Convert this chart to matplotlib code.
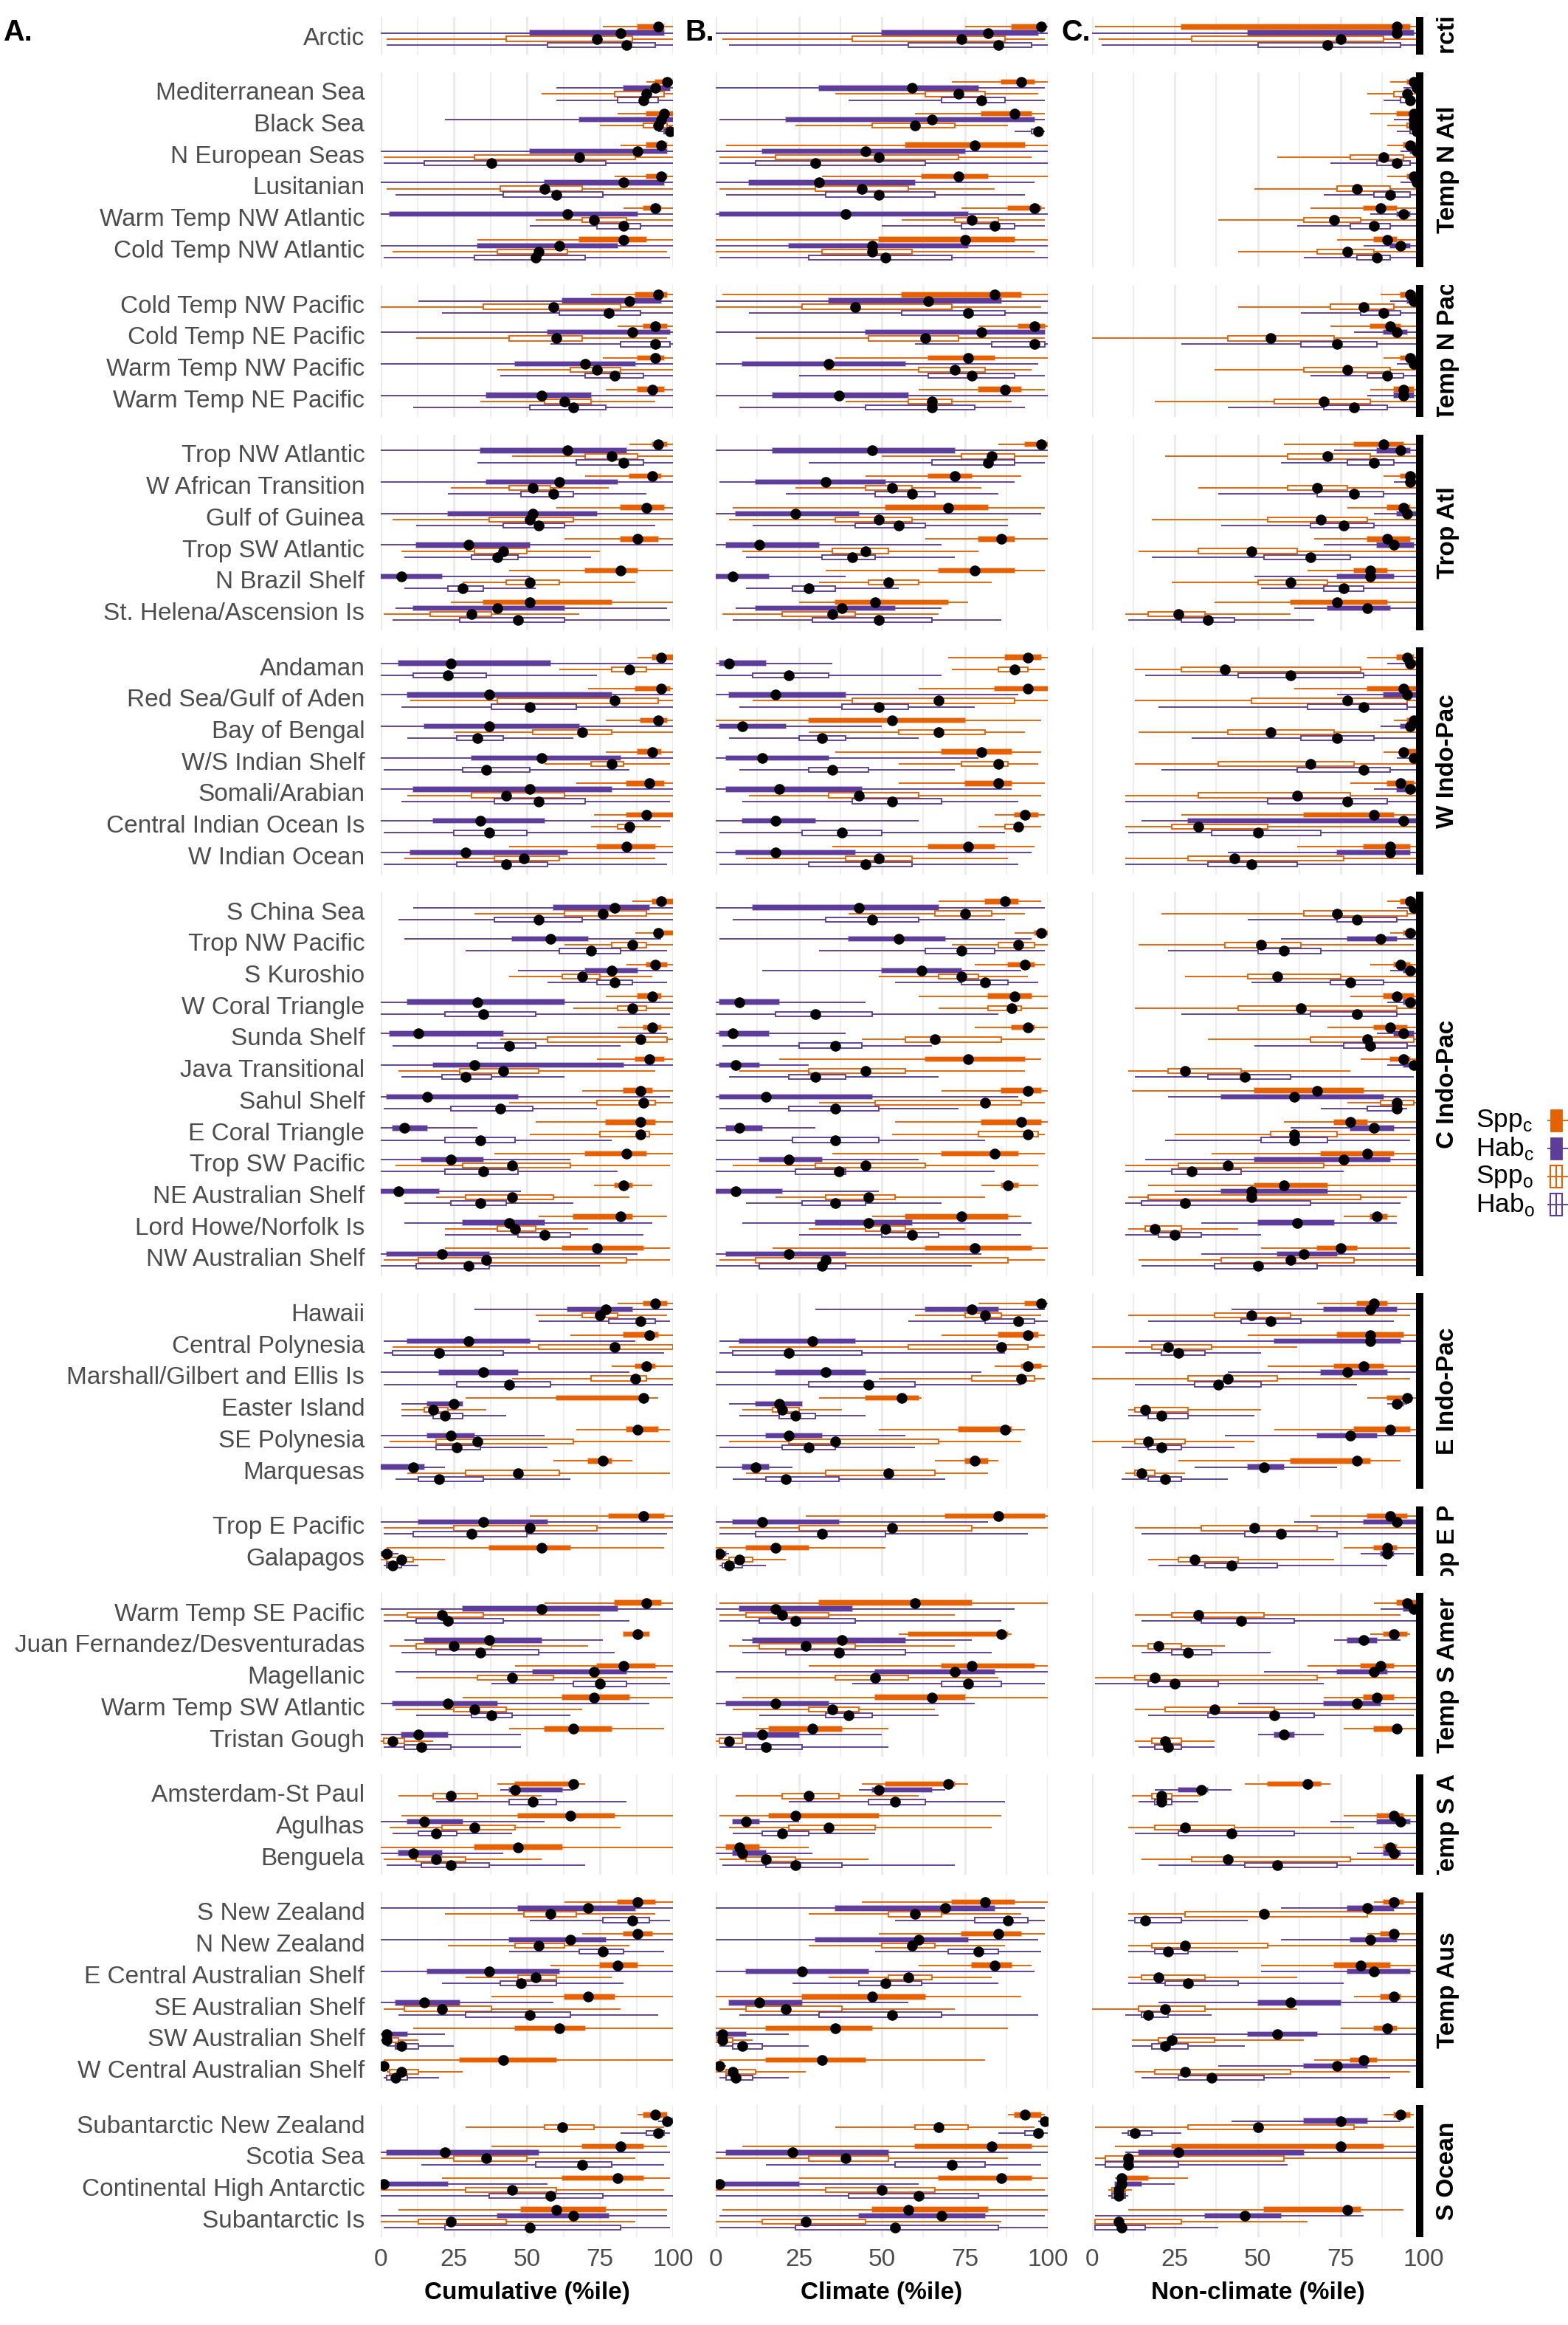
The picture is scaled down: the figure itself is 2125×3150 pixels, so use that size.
import matplotlib
matplotlib.use("Agg")
import matplotlib.pyplot as plt
from matplotlib.patches import Rectangle
from matplotlib.colors import to_rgba

plt.rcParams['font.family'] = ['Liberation Sans', 'DejaVu Sans']

# ---- data -------------------------------------------------------------
REALMS = ["Arctic", "Temp N Atl", "Temp N Pac", "Trop Atl", "W Indo-Pac",
          "C Indo-Pac", "E Indo-Pac", "Trop E Pac", "Temp S Amer",
          "Temp S Af", "Temp Aus", "S Ocean"]
REALM_SIZES = [1, 6, 4, 6, 7, 12, 6, 2, 5, 3, 6, 4]

PROVINCES = [
    "Arctic",
    "Mediterranean Sea", "Black Sea", "N European Seas", "Lusitanian",
    "Warm Temp NW Atlantic", "Cold Temp NW Atlantic",
    "Cold Temp NW Pacific", "Cold Temp NE Pacific", "Warm Temp NW Pacific",
    "Warm Temp NE Pacific",
    "Trop NW Atlantic", "W African Transition", "Gulf of Guinea",
    "Trop SW Atlantic", "N Brazil Shelf", "St. Helena/Ascension Is",
    "Andaman", "Red Sea/Gulf of Aden", "Bay of Bengal", "W/S Indian Shelf",
    "Somali/Arabian", "Central Indian Ocean Is", "W Indian Ocean",
    "S China Sea", "Trop NW Pacific", "S Kuroshio", "W Coral Triangle",
    "Sunda Shelf", "Java Transitional", "Sahul Shelf", "E Coral Triangle",
    "Trop SW Pacific", "NE Australian Shelf", "Lord Howe/Norfolk Is",
    "NW Australian Shelf",
    "Hawaii", "Central Polynesia", "Marshall/Gilbert and Ellis Is",
    "Easter Island", "SE Polynesia", "Marquesas",
    "Trop E Pacific", "Galapagos",
    "Warm Temp SE Pacific", "Juan Fernandez/Desventuradas", "Magellanic",
    "Warm Temp SW Atlantic", "Tristan Gough",
    "Amsterdam-St Paul", "Agulhas", "Benguela",
    "S New Zealand", "N New Zealand", "E Central Australian Shelf",
    "SE Australian Shelf", "SW Australian Shelf", "W Central Australian Shelf",
    "Subantarctic New Zealand", "Scotia Sea", "Continental High Antarctic",
    "Subantarctic Is",
]

# each entry: (low, q25, median, q75, high) percentile, one per province
CUM_SPP_C = [
    (76, 88, 95, 97, 100),
    (91, 94, 98, 100, 100), (81, 91, 97, 100, 100), (82, 91, 96, 98, 100),
    (80, 91, 96, 98, 100), (83, 90, 94, 96, 100), (33, 68, 83, 91, 100),
    (72, 87, 95, 98, 100), (81, 90, 94, 98, 100), (76, 88, 94, 97, 100),
    (77, 88, 93, 97, 100),
    (85, 93, 95, 98, 100), (70, 85, 93, 96, 100), (60, 82, 91, 97, 100),
    (63, 82, 88, 95, 100), (44, 70, 82, 88, 100), (24, 35, 51, 79, 100),
    (88, 93, 96, 100, 100), (71, 87, 96, 99, 100), (77, 89, 95, 98, 100),
    (77, 88, 93, 96, 100), (67, 84, 92, 97, 100), (73, 84, 91, 100, 100),
    (44, 74, 84, 94, 100),
    (86, 93, 96, 100, 100), (87, 94, 95, 100, 100), (84, 91, 94, 98, 100),
    (77, 88, 93, 96, 100), (81, 90, 93, 96, 100), (74, 87, 92, 97, 100),
    (69, 83, 89, 93, 100), (53, 77, 89, 94, 100), (39, 70, 84, 91, 100),
    (73, 80, 83, 86, 93), (54, 66, 82, 86, 98), (22, 62, 74, 90, 99),
    (81, 90, 94, 98, 100), (65, 83, 92, 95, 100), (79, 87, 91, 94, 100),
    (29, 60, 90, 91, 95), (67, 84, 88, 95, 99), (59, 71, 76, 79, 86),
    (51, 78, 90, 97, 100), (2, 37, 55, 65, 97),
    (56, 80, 91, 96, 100), (83, 83, 88, 92, 92), (46, 74, 83, 94, 100),
    (28, 62, 73, 85, 100), (44, 56, 66, 79, 97),
    (40, 46, 66, 66, 70), (7, 47, 65, 80, 100), (0, 32, 47, 62, 100),
    (63, 81, 88, 94, 100), (69, 83, 88, 93, 100), (58, 75, 81, 88, 100),
    (38, 63, 71, 80, 100), (11, 46, 61, 70, 100), (1, 27, 42, 60, 100),
    (88, 90, 94, 98, 98), (38, 69, 82, 90, 98), (21, 62, 81, 90, 99),
    (6, 48, 60, 77, 98),
]
CUM_HAB_C = [
    (0, 51, 82, 97, 100),
    (60, 83, 94, 99, 100), (22, 68, 96, 100, 100), (0, 51, 88, 98, 100),
    (0, 56, 83, 97, 100), (0, 3, 64, 88, 100), (0, 33, 61, 81, 100),
    (13, 62, 85, 96, 100), (0, 57, 86, 99, 100), (0, 46, 70, 87, 100),
    (0, 36, 55, 72, 100),
    (0, 34, 64, 84, 100), (0, 36, 61, 81, 100), (0, 23, 52, 74, 100),
    (0, 12, 30, 51, 100), (0, 0, 7, 21, 51), (5, 11, 40, 63, 98),
    (0, 6, 24, 58, 100), (0, 9, 37, 79, 100), (0, 15, 37, 68, 100),
    (0, 31, 55, 82, 100), (0, 11, 51, 79, 100), (0, 18, 34, 56, 99),
    (0, 10, 29, 64, 100),
    (11, 59, 80, 92, 100), (8, 45, 58, 71, 96), (47, 70, 79, 88, 100),
    (0, 9, 33, 63, 100), (0, 3, 13, 42, 98), (0, 18, 32, 83, 100),
    (0, 2, 16, 47, 99), (0, 4, 8, 16, 33), (0, 14, 24, 35, 65),
    (0, 0, 6, 20, 48), (8, 28, 44, 56, 93), (0, 2, 21, 37, 88),
    (32, 64, 77, 86, 100), (1, 9, 30, 51, 87), (0, 20, 35, 47, 85),
    (7, 16, 25, 28, 28), (0, 16, 24, 32, 56), (0, 0, 11, 15, 22),
    (0, 13, 35, 57, 100), (0, 0, 2, 4, 6),
    (0, 28, 55, 81, 100), (8, 15, 37, 55, 76), (5, 52, 73, 84, 100),
    (0, 4, 23, 40, 92), (0, 7, 13, 23, 48),
    (41, 44, 46, 62, 66), (0, 9, 15, 28, 56), (0, 6, 11, 21, 42),
    (0, 47, 71, 87, 100), (0, 44, 65, 77, 100), (0, 16, 37, 61, 100),
    (0, 5, 15, 27, 59), (0, 1, 2, 9, 22), (0, 0, 1, 1, 2),
    (95, 97, 98, 100, 100), (0, 2, 22, 54, 99), (0, 0, 1, 23, 57),
    (0, 40, 66, 78, 98),
]
CUM_SPP_O = [
    (2, 43, 74, 86, 100),
    (55, 80, 91, 97, 100), (75, 90, 95, 98, 100), (1, 32, 68, 87, 100),
    (2, 41, 56, 69, 100), (53, 69, 73, 84, 100), (4, 40, 54, 64, 98),
    (0, 35, 59, 82, 100), (12, 44, 60, 69, 98), (40, 65, 74, 82, 100),
    (34, 56, 63, 72, 94),
    (45, 70, 79, 88, 100), (24, 44, 52, 58, 78), (4, 37, 51, 66, 100),
    (7, 32, 42, 50, 75), (28, 43, 51, 61, 87), (1, 17, 31, 38, 68),
    (61, 79, 85, 91, 100), (10, 40, 80, 95, 100), (25, 52, 69, 79, 100),
    (56, 72, 79, 83, 99), (9, 31, 43, 63, 100), (72, 81, 85, 86, 96),
    (8, 39, 49, 61, 94),
    (32, 63, 76, 91, 100), (63, 79, 86, 91, 100), (44, 62, 69, 75, 93),
    (66, 81, 86, 91, 100), (41, 57, 89, 98, 100), (6, 27, 42, 54, 94),
    (44, 74, 90, 94, 100), (51, 75, 89, 92, 100), (5, 28, 45, 65, 99),
    (19, 29, 45, 59, 85), (22, 40, 46, 53, 71), (1, 13, 36, 84, 99),
    (53, 69, 75, 81, 98), (4, 54, 80, 100, 100), (45, 72, 87, 91, 100),
    (7, 15, 18, 23, 36), (3, 19, 33, 66, 99), (9, 29, 47, 61, 99),
    (1, 25, 51, 74, 100), (0, 2, 7, 11, 22),
    (1, 9, 21, 35, 75), (3, 12, 25, 38, 71), (12, 33, 45, 59, 98),
    (5, 25, 32, 43, 69), (0, 1, 4, 8, 18),
    (6, 18, 24, 33, 55), (3, 21, 32, 46, 82), (1, 12, 19, 29, 55),
    (22, 49, 58, 67, 94), (23, 46, 54, 63, 85), (29, 47, 53, 60, 79),
    (1, 8, 21, 38, 82), (0, 1, 2, 6, 13), (2, 3, 7, 13, 28),
    (29, 56, 62, 73, 97), (0, 25, 36, 50, 87), (0, 29, 45, 60, 97),
    (0, 13, 24, 43, 87),
]
CUM_HAB_O = [
    (2, 57, 84, 94, 100),
    (60, 81, 90, 95, 100), (95, 97, 99, 100, 100), (1, 15, 38, 77, 100),
    (5, 42, 60, 76, 100), (51, 74, 83, 89, 100), (1, 32, 53, 70, 99),
    (21, 61, 78, 89, 100), (58, 82, 94, 99, 100), (41, 70, 80, 90, 100),
    (11, 51, 66, 77, 100),
    (33, 67, 83, 90, 100), (23, 48, 59, 66, 91), (12, 42, 54, 63, 94),
    (8, 31, 40, 47, 72), (8, 23, 28, 35, 53), (4, 27, 47, 63, 99),
    (0, 11, 23, 36, 74), (7, 38, 51, 67, 100), (9, 26, 33, 42, 66),
    (1, 28, 36, 51, 85), (7, 39, 54, 70, 99), (1, 25, 37, 50, 86),
    (1, 26, 43, 57, 98),
    (6, 39, 54, 69, 100), (29, 61, 72, 82, 98), (57, 74, 80, 86, 98),
    (0, 22, 35, 53, 99), (4, 33, 44, 53, 82), (7, 21, 29, 38, 63),
    (1, 24, 41, 52, 74), (0, 22, 34, 46, 79), (0, 22, 35, 47, 81),
    (8, 24, 34, 43, 66), (22, 47, 56, 65, 90), (0, 12, 30, 37, 75),
    (54, 78, 89, 94, 99), (1, 4, 20, 42, 97), (1, 26, 44, 58, 100),
    (7, 18, 22, 28, 43), (1, 19, 26, 34, 57), (5, 13, 20, 35, 65),
    (1, 11, 31, 50, 98), (1, 2, 4, 7, 13),
    (1, 12, 23, 42, 85), (7, 19, 34, 54, 80), (38, 66, 75, 84, 99),
    (12, 31, 38, 45, 65), (1, 8, 14, 24, 48),
    (19, 44, 52, 60, 84), (4, 13, 19, 26, 45), (2, 14, 24, 37, 70),
    (51, 76, 86, 92, 99), (44, 68, 76, 83, 97), (21, 41, 48, 60, 83),
    (6, 29, 51, 65, 95), (2, 5, 7, 13, 25), (1, 2, 5, 9, 20),
    (82, 91, 95, 97, 99), (14, 53, 69, 79, 97), (0, 37, 58, 76, 100),
    (1, 22, 51, 82, 99),
]

CLIM_SPP_C = [
    (75, 89, 98, 99, 100),
    (71, 86, 92, 96, 100), (60, 80, 90, 95, 99), (3, 57, 78, 93, 100),
    (32, 62, 73, 82, 100), (74, 88, 96, 98, 99), (0, 49, 75, 90, 100),
    (2, 56, 84, 92, 100), (79, 91, 96, 99, 100), (36, 64, 76, 84, 100),
    (61, 79, 87, 92, 99),
    (85, 93, 98, 100, 100), (45, 64, 72, 77, 92), (5, 51, 70, 82, 99),
    (63, 79, 86, 90, 100), (33, 67, 78, 90, 99), (25, 36, 48, 70, 76),
    (70, 87, 94, 98, 100), (61, 84, 94, 100, 100), (0, 28, 53, 75, 98),
    (36, 68, 80, 89, 98), (55, 75, 85, 89, 99), (84, 90, 93, 97, 99),
    (35, 64, 76, 84, 96),
    (67, 81, 87, 91, 98), (90, 96, 98, 100, 100), (78, 88, 93, 96, 99),
    (61, 82, 90, 95, 100), (78, 89, 94, 96, 100), (19, 63, 76, 93, 98),
    (68, 86, 94, 98, 100), (54, 80, 92, 98, 100), (35, 68, 84, 91, 99),
    (80, 86, 88, 91, 97), (47, 57, 74, 88, 92), (17, 63, 78, 95, 100),
    (79, 93, 98, 99, 100), (68, 85, 94, 97, 99), (84, 92, 94, 98, 100),
    (31, 45, 56, 61, 62), (49, 73, 87, 89, 93), (66, 75, 78, 82, 85),
    (27, 69, 85, 99, 100), (0, 9, 18, 28, 51),
    (1, 31, 60, 77, 100), (55, 58, 86, 88, 89), (28, 68, 77, 96, 100),
    (8, 48, 65, 75, 100), (12, 16, 29, 38, 52),
    (44, 51, 70, 72, 76), (1, 16, 24, 49, 86), (0, 3, 7, 13, 28),
    (44, 71, 81, 90, 100), (49, 74, 85, 92, 99), (61, 77, 84, 89, 95),
    (0, 26, 47, 63, 92), (0, 15, 36, 47, 88), (1, 15, 32, 45, 81),
    (88, 90, 93, 98, 99), (8, 60, 83, 95, 100), (25, 67, 86, 95, 100),
    (2, 47, 58, 82, 100),
]
CLIM_HAB_C = [
    (0, 50, 82, 97, 100),
    (0, 31, 59, 79, 99), (1, 21, 65, 96, 99), (0, 14, 45, 75, 100),
    (0, 10, 31, 60, 96), (0, 1, 39, 76, 100), (0, 22, 47, 76, 100),
    (0, 34, 64, 86, 100), (0, 45, 80, 99, 99), (0, 8, 34, 57, 97),
    (0, 17, 37, 58, 100),
    (0, 17, 47, 72, 100), (1, 12, 33, 51, 90), (0, 6, 24, 43, 98),
    (0, 3, 13, 31, 68), (0, 0, 5, 16, 39), (6, 12, 38, 54, 68),
    (0, 1, 4, 15, 35), (0, 4, 18, 39, 91), (0, 1, 8, 21, 50),
    (0, 3, 14, 34, 79), (0, 3, 19, 44, 89), (0, 8, 18, 30, 61),
    (0, 6, 18, 42, 95),
    (0, 11, 43, 67, 99), (1, 40, 55, 69, 95), (14, 50, 62, 74, 92),
    (0, 1, 7, 19, 45), (0, 1, 5, 16, 39), (0, 1, 6, 13, 28),
    (0, 1, 15, 47, 91), (0, 3, 7, 14, 30), (0, 13, 22, 32, 61),
    (0, 0, 6, 20, 49), (8, 30, 46, 59, 95), (0, 3, 22, 39, 80),
    (30, 63, 77, 85, 99), (1, 7, 29, 42, 85), (0, 18, 33, 45, 80),
    (4, 12, 19, 26, 26), (0, 15, 22, 32, 57), (0, 8, 12, 16, 23),
    (0, 5, 14, 37, 82), (0, 0, 1, 3, 4),
    (0, 7, 18, 41, 90), (8, 11, 38, 57, 77), (0, 48, 72, 84, 100),
    (0, 3, 18, 34, 78), (0, 8, 14, 25, 50),
    (43, 47, 49, 65, 69), (5, 5, 9, 13, 25), (0, 5, 8, 15, 29),
    (0, 36, 69, 84, 99), (0, 30, 61, 76, 97), (0, 9, 26, 46, 96),
    (4, 4, 13, 26, 58), (0, 0, 2, 9, 22), (0, 0, 1, 2, 3),
    (97, 98, 99, 100, 100), (0, 3, 23, 52, 100), (0, 0, 1, 25, 61),
    (1, 43, 68, 81, 99),
]
CLIM_SPP_O = [
    (2, 41, 74, 87, 99),
    (36, 63, 73, 81, 97), (24, 47, 60, 72, 88), (1, 18, 49, 73, 95),
    (1, 30, 44, 58, 84), (56, 72, 77, 85, 99), (0, 32, 47, 59, 96),
    (0, 26, 42, 71, 98), (12, 46, 63, 73, 99), (33, 61, 72, 81, 95),
    (39, 58, 65, 71, 89),
    (50, 74, 83, 90, 100), (24, 45, 53, 59, 80), (4, 36, 49, 59, 88),
    (8, 35, 45, 52, 79), (31, 46, 52, 61, 83), (2, 20, 35, 42, 67),
    (71, 85, 90, 94, 99), (11, 41, 67, 90, 100), (28, 55, 67, 81, 93),
    (55, 74, 85, 88, 97), (10, 34, 43, 61, 98), (79, 87, 91, 92, 98),
    (9, 39, 49, 59, 88),
    (40, 66, 75, 83, 93), (71, 85, 91, 96, 100), (49, 67, 74, 79, 94),
    (67, 82, 89, 92, 100), (44, 57, 66, 86, 99), (7, 28, 45, 57, 93),
    (31, 48, 81, 92, 99), (53, 79, 94, 97, 99), (5, 30, 45, 63, 97),
    (18, 33, 46, 54, 81), (28, 45, 51, 57, 75), (1, 12, 33, 88, 99),
    (60, 75, 81, 86, 98), (4, 58, 86, 94, 99), (49, 77, 92, 96, 99),
    (8, 17, 20, 25, 38), (4, 22, 36, 67, 92), (9, 33, 52, 66, 82),
    (1, 25, 53, 77, 100), (0, 4, 7, 11, 21),
    (1, 9, 20, 34, 72), (4, 13, 27, 42, 72), (6, 36, 48, 58, 85),
    (5, 28, 35, 43, 66), (0, 1, 4, 8, 8),
    (6, 20, 28, 37, 61), (4, 22, 34, 48, 83), (1, 9, 15, 24, 46),
    (28, 52, 60, 68, 92), (28, 50, 59, 66, 87), (34, 52, 58, 65, 83),
    (1, 9, 21, 38, 72), (0, 0, 2, 5, 11), (0, 3, 5, 12, 27),
    (36, 60, 67, 76, 96), (0, 28, 39, 52, 88), (0, 33, 50, 66, 99),
    (0, 14, 27, 45, 86),
]
CLIM_HAB_O = [
    (4, 58, 85, 95, 100),
    (40, 68, 80, 87, 99), (90, 95, 97, 98, 99), (1, 12, 30, 63, 100),
    (3, 33, 49, 66, 93), (50, 74, 84, 90, 99), (1, 28, 51, 71, 100),
    (10, 56, 76, 87, 100), (60, 83, 96, 99, 100), (25, 64, 77, 90, 99),
    (7, 45, 65, 78, 93),
    (28, 65, 82, 90, 99), (21, 48, 59, 66, 85), (11, 42, 55, 63, 88),
    (9, 32, 41, 48, 72), (9, 23, 28, 36, 55), (5, 29, 49, 65, 86),
    (0, 11, 22, 34, 68), (7, 38, 49, 58, 78), (4, 25, 32, 39, 61),
    (7, 28, 35, 46, 72), (8, 41, 53, 68, 91), (1, 26, 38, 50, 87),
    (1, 28, 45, 59, 91),
    (5, 33, 47, 61, 87), (31, 63, 74, 84, 99), (54, 74, 81, 88, 97),
    (0, 18, 30, 47, 85), (2, 25, 36, 44, 65), (4, 22, 30, 39, 67),
    (1, 22, 36, 49, 73), (0, 23, 36, 49, 81), (0, 24, 37, 39, 84),
    (9, 26, 36, 45, 68), (25, 50, 59, 67, 92), (0, 13, 32, 39, 77),
    (58, 81, 91, 96, 100), (1, 5, 22, 44, 87), (0, 28, 46, 60, 92),
    (7, 19, 24, 30, 45), (1, 20, 28, 36, 60), (5, 15, 21, 37, 69),
    (1, 12, 32, 51, 94), (1, 2, 4, 8, 15),
    (1, 13, 24, 42, 86), (8, 21, 37, 57, 83), (41, 68, 76, 86, 99),
    (13, 33, 40, 47, 67), (1, 9, 15, 26, 52),
    (22, 46, 54, 63, 87), (5, 14, 20, 28, 48), (2, 15, 24, 38, 72),
    (54, 78, 88, 94, 99), (48, 70, 79, 85, 98), (23, 43, 51, 62, 85),
    (7, 31, 53, 68, 97), (1, 5, 8, 14, 28), (1, 3, 6, 11, 22),
    (85, 93, 97, 98, 100), (15, 54, 71, 81, 98), (0, 40, 61, 79, 100),
    (1, 24, 54, 85, 100),
]

NCL_SPP_C = [
    (1, 27, 92, 96, 100),
    (90, 95, 97, 99, 100), (84, 92, 97, 98, 100), (89, 94, 96, 98, 100),
    (89, 95, 97, 99, 100), (66, 82, 87, 92, 100), (74, 85, 89, 92, 100),
    (87, 93, 96, 98, 100), (72, 84, 90, 93, 100), (88, 93, 96, 98, 100),
    (84, 91, 94, 97, 100),
    (58, 79, 88, 94, 100), (88, 93, 96, 98, 100), (77, 89, 94, 96, 100),
    (67, 83, 89, 96, 100), (65, 79, 84, 89, 100), (37, 60, 74, 89, 100),
    (83, 92, 95, 97, 100), (61, 83, 94, 98, 100), (91, 95, 97, 99, 100),
    (88, 93, 94, 98, 100), (78, 89, 93, 97, 100), (27, 64, 85, 91, 100),
    (62, 82, 90, 96, 100),
    (89, 93, 96, 98, 100), (90, 94, 96, 98, 100), (84, 91, 93, 96, 100),
    (78, 88, 92, 97, 100), (71, 85, 90, 95, 100), (81, 90, 94, 96, 100),
    (12, 49, 68, 82, 99), (58, 73, 78, 83, 98), (36, 69, 83, 91, 100),
    (17, 49, 58, 71, 100), (76, 84, 86, 89, 92), (51, 68, 75, 80, 96),
    (68, 80, 85, 89, 100), (47, 74, 84, 94, 100), (53, 73, 82, 88, 99),
    (83, 89, 95, 96, 100), (55, 79, 90, 96, 99), (26, 60, 80, 84, 93),
    (66, 83, 90, 95, 100), (76, 85, 89, 92, 98),
    (85, 92, 95, 98, 100), (84, 88, 91, 95, 96), (65, 81, 87, 91, 100),
    (70, 82, 86, 91, 100), (76, 85, 92, 92, 98),
    (46, 53, 65, 69, 72), (76, 86, 91, 94, 100), (85, 88, 90, 92, 98),
    (85, 88, 91, 94, 99), (83, 87, 91, 92, 98), (51, 73, 81, 90, 100),
    (79, 87, 91, 93, 100), (75, 85, 89, 92, 100), (67, 78, 82, 86, 98),
    (88, 91, 93, 96, 97), (7, 24, 75, 88, 98), (7, 8, 9, 17, 29),
    (11, 52, 77, 81, 94),
]
NCL_HAB_C = [
    (0, 47, 92, 97, 100),
    (94, 97, 98, 100, 100), (91, 96, 97, 99, 100), (93, 96, 98, 99, 100),
    (93, 97, 98, 100, 100), (84, 92, 94, 96, 100), (82, 90, 93, 96, 100),
    (90, 95, 97, 99, 100), (79, 88, 92, 95, 100), (92, 96, 97, 99, 100),
    (83, 91, 94, 97, 100),
    (73, 86, 93, 96, 100), (91, 95, 96, 99, 100), (85, 92, 95, 99, 100),
    (70, 86, 91, 97, 100), (49, 74, 84, 91, 100), (61, 71, 83, 90, 99),
    (89, 95, 96, 100, 100), (74, 88, 95, 98, 100), (87, 93, 96, 99, 100),
    (92, 96, 97, 99, 100), (85, 92, 96, 99, 100), (15, 29, 94, 99, 99),
    (41, 74, 90, 96, 100),
    (92, 96, 97, 100, 100), (57, 77, 87, 92, 100), (90, 94, 96, 99, 100),
    (89, 94, 96, 99, 100), (86, 91, 94, 97, 100), (89, 94, 97, 99, 100),
    (23, 39, 61, 88, 100), (60, 78, 85, 91, 99), (16, 49, 76, 90, 100),
    (25, 39, 48, 71, 100), (33, 50, 62, 73, 92), (33, 56, 64, 74, 100),
    (42, 70, 84, 92, 100), (14, 55, 84, 93, 98), (41, 69, 77, 89, 99),
    (89, 91, 92, 94, 95), (40, 68, 78, 86, 98), (31, 47, 52, 58, 74),
    (61, 82, 92, 98, 100), (81, 87, 89, 91, 97),
    (87, 94, 97, 100, 100), (73, 77, 82, 86, 93), (52, 74, 85, 89, 100),
    (44, 70, 80, 87, 100), (50, 55, 58, 61, 70),
    (19, 26, 33, 35, 42), (72, 86, 93, 96, 100), (80, 88, 91, 93, 100),
    (57, 77, 83, 91, 100), (57, 78, 84, 92, 100), (51, 77, 85, 96, 100),
    (20, 50, 60, 75, 100), (24, 47, 56, 68, 99), (38, 64, 74, 83, 100),
    (42, 64, 75, 83, 93), (10, 14, 26, 64, 98), (7, 7, 9, 15, 25),
    (1, 34, 46, 57, 82),
]
NCL_SPP_O = [
    (2, 30, 75, 88, 100),
    (83, 91, 95, 96, 100), (89, 95, 97, 99, 100), (56, 78, 88, 94, 100),
    (49, 74, 80, 90, 100), (38, 64, 73, 81, 100), (44, 68, 77, 85, 99),
    (44, 72, 82, 91, 100), (0, 41, 54, 73, 98), (37, 64, 77, 90, 100),
    (19, 55, 70, 84, 100),
    (22, 59, 71, 84, 100), (32, 59, 68, 77, 98), (18, 53, 69, 83, 100),
    (14, 32, 48, 62, 100), (24, 50, 60, 71, 99), (10, 17, 26, 34, 60),
    (13, 27, 40, 81, 100), (13, 48, 77, 95, 100), (14, 41, 54, 73, 100),
    (13, 38, 66, 79, 100), (10, 32, 62, 78, 100), (10, 24, 32, 53, 98),
    (10, 29, 43, 76, 100),
    (21, 64, 74, 95, 100), (14, 40, 51, 63, 97), (28, 47, 56, 75, 99),
    (13, 44, 63, 92, 100), (35, 66, 83, 97, 100), (11, 23, 28, 45, 78),
    (77, 87, 92, 97, 100), (25, 54, 61, 74, 99), (10, 26, 41, 70, 100),
    (11, 17, 48, 81, 95), (11, 16, 19, 27, 44), (14, 39, 60, 79, 98),
    (11, 37, 48, 60, 96), (0, 18, 23, 36, 62), (0, 29, 41, 56, 96),
    (11, 13, 16, 29, 51), (0, 13, 17, 28, 49), (10, 13, 15, 19, 28),
    (13, 33, 49, 68, 99), (17, 26, 31, 44, 73),
    (13, 24, 32, 52, 93), (12, 17, 20, 27, 40), (1, 13, 19, 68, 100),
    (13, 22, 37, 55, 98), (13, 18, 22, 27, 37),
    (12, 18, 21, 24, 33), (11, 19, 28, 43, 79), (15, 30, 41, 78, 99),
    (11, 28, 52, 83, 98), (11, 18, 28, 53, 99), (11, 15, 20, 34, 62),
    (0, 14, 22, 34, 62), (12, 20, 24, 37, 64), (13, 19, 28, 60, 96),
    (1, 29, 50, 79, 97), (1, 4, 11, 58, 98), (5, 6, 8, 10, 12),
    (1, 1, 8, 27, 65),
]
NCL_HAB_O = [
    (3, 50, 71, 93, 100),
    (88, 93, 96, 97, 100), (92, 96, 98, 99, 100), (72, 86, 92, 96, 100),
    (70, 85, 90, 96, 100), (62, 78, 85, 90, 100), (64, 80, 86, 90, 98),
    (63, 81, 88, 93, 100), (27, 63, 74, 86, 98), (66, 83, 89, 94, 100),
    (41, 70, 79, 89, 100),
    (57, 77, 85, 91, 100), (38, 68, 79, 88, 98), (39, 66, 76, 85, 100),
    (18, 52, 66, 78, 100), (51, 70, 76, 82, 99), (11, 27, 35, 43, 67),
    (16, 44, 60, 82, 100), (20, 65, 82, 95, 100), (30, 63, 74, 85, 100),
    (21, 62, 82, 90, 99), (10, 53, 77, 89, 99), (11, 36, 50, 69, 98),
    (10, 35, 48, 62, 99),
    (47, 74, 80, 92, 100), (23, 50, 58, 69, 99), (48, 72, 78, 88, 99),
    (27, 66, 80, 92, 99), (49, 76, 84, 95, 100), (13, 35, 46, 60, 97),
    (69, 83, 92, 93, 95), (22, 51, 61, 71, 96), (10, 24, 30, 45, 76),
    (10, 15, 28, 66, 93), (10, 20, 25, 33, 51), (15, 37, 50, 68, 98),
    (17, 45, 54, 63, 91), (10, 21, 26, 34, 51), (13, 31, 38, 51, 80),
    (11, 17, 21, 29, 49), (9, 17, 21, 27, 43), (9, 17, 22, 27, 41),
    (15, 46, 57, 74, 99), (20, 34, 42, 56, 89),
    (15, 33, 45, 61, 99), (15, 24, 29, 36, 54), (1, 17, 25, 38, 70),
    (17, 35, 55, 67, 97), (14, 19, 23, 27, 37),
    (14, 19, 21, 24, 32), (13, 26, 42, 61, 99), (20, 46, 56, 74, 97),
    (11, 13, 16, 27, 47), (11, 19, 23, 29, 44), (11, 22, 29, 44, 76),
    (10, 15, 17, 23, 36), (12, 18, 22, 29, 46), (15, 26, 36, 52, 90),
    (9, 11, 13, 18, 27), (1, 4, 11, 26, 59), (5, 6, 8, 10, 11),
    (1, 1, 9, 16, 38),
]

PANELS = [
    ("A.", "Cumulative (%ile)", [CUM_SPP_C, CUM_HAB_C, CUM_SPP_O, CUM_HAB_O]),
    ("B.", "Climate (%ile)", [CLIM_SPP_C, CLIM_HAB_C, CLIM_SPP_O, CLIM_HAB_O]),
    ("C.", "Non-climate (%ile)", [NCL_SPP_C, NCL_HAB_C, NCL_SPP_O, NCL_HAB_O]),
]
SERIES_LABELS = [r"Spp$_\mathregular{c}$", r"Hab$_\mathregular{c}$",
                 r"Spp$_\mathregular{o}$", r"Hab$_\mathregular{o}$"]

# ---- style / layout ----------------------------------------------------
ORANGE = "#E66101"
PURPLE = "#5E3C99"
SERIES_COL = [ORANGE, PURPLE, ORANGE, PURPLE]
SERIES_FILLED = [True, True, False, False]
OFFSETS = [-0.285, -0.095, 0.095, 0.285]
BAR_H = 0.15
GREY_TXT = "#4D4D4D"
GRID = "#EBEBEB"

W, H, DPI = 2125, 3150, 300
UNIT = 42.7          # px per province row
GAP = 23.5           # px between realm panels
TOP = 23
PANEL_X = [(516, 912), (970, 1420), (1480, 1929)]
PANEL_LABEL_X = [4, 928, 1438]

fig = plt.figure(figsize=(W / DPI, H / DPI), dpi=DPI)


def px_rect(x0, y0, x1, y1):
    return [x0 / W, 1 - y1 / H, (x1 - x0) / W, (y1 - y0) / H]


blocks = []
y_px, start = TOP, 0
for realm, n in zip(REALMS, REALM_SIZES):
    h = (n + 0.2) * UNIT
    blocks.append((realm, start, n, y_px, h))
    y_px += h + GAP
    start += n

for col, (plabel, xlabel, series) in enumerate(PANELS):
    x0, x1 = PANEL_X[col]
    for bi, (realm, start, n, ytop, h) in enumerate(blocks):
        ax = fig.add_axes(px_rect(x0, ytop, x1, ytop + h))
        ax.set_xlim(0, 100)
        ax.set_ylim(n - 0.4, -0.6)
        for s in ax.spines.values():
            s.set_visible(False)
        for v in [0, 12.5, 25, 37.5, 50, 62.5, 75, 87.5, 100]:
            major = v % 25 == 0
            ax.axvline(v, color=GRID, lw=0.75 if major else 0.4, zorder=0)
        ax.tick_params(length=0, labelsize=8, labelcolor=GREY_TXT, pad=5.2)
        ax.set_yticks(range(n))
        if col == 0:
            ax.set_yticklabels(PROVINCES[start:start + n])
        else:
            ax.set_yticklabels([])
        ax.set_xticks([0, 25, 50, 75, 100])
        if bi == len(blocks) - 1:
            ax.set_xticklabels(["0", "25", "50", "75", "100"])
            ax.tick_params(axis="x", pad=3.5)
        else:
            ax.set_xticklabels([])

        meds, ys = [], []
        for k, data in enumerate(series):
            c = SERIES_COL[k]
            halo = to_rgba(c, 0.35)
            for i in range(n):
                lo, q1, med, q3, hi = data[start + i]
                y = i + OFFSETS[k]
                ax.plot([lo, hi], [y, y], color=c, lw=0.45,
                        solid_capstyle="butt", zorder=2)
                if SERIES_FILLED[k]:
                    ax.add_patch(Rectangle((q1, y - BAR_H / 2), q3 - q1, BAR_H,
                                           fc=c, ec=halo, lw=0.5, zorder=3))
                else:
                    ax.add_patch(Rectangle((q1, y - BAR_H / 2), q3 - q1, BAR_H,
                                           fc="white", ec=c, lw=0.45, zorder=3))
                meds.append(med)
                ys.append(y)
        ax.plot(meds, ys, "o", color="black", ms=3.5, mec="none", zorder=5)

        if col == 2:
            sx0, sx1 = 1919, 1995
            sax = fig.add_axes(px_rect(sx0, ytop, sx1, ytop + h), zorder=5)
            sax.set_axis_off()
            sax.set_xlim(sx0, sx1)
            sax.set_ylim(0, 1)
            sax.add_patch(Rectangle((1919, 0), 10, 1, fc="black", ec="none"))
            sax.text(1962, 0.5, realm, rotation=90, ha="center", va="center",
                     fontsize=8, fontweight="bold", clip_on=True)

# overlay for labels and legend, in pixel coordinates
ov = fig.add_axes([0, 0, 1, 1], zorder=10)
ov.set_axis_off()
ov.set_xlim(0, W)
ov.set_ylim(H, 0)
for col, (plabel, xlabel, _) in enumerate(PANELS):
    ov.text(PANEL_LABEL_X[col], 44, plabel, fontsize=9.5, fontweight="bold",
            ha="left", va="center")
    x0, x1 = PANEL_X[col]
    ov.text((x0 + x1) / 2, 3106, xlabel, fontsize=8, fontweight="bold",
            ha="center", va="center")

leg_y = [1518, 1556, 1594, 1632]
for k, lab in enumerate(SERIES_LABELS):
    yc = leg_y[k]
    c = SERIES_COL[k]
    ov.text(2000, yc, lab, fontsize=8.5, ha="left", va="center")
    ov.plot([2097, 2125], [yc, yc], color=c, lw=0.45, solid_capstyle="butt")
    if SERIES_FILLED[k]:
        ov.add_patch(Rectangle((2101, yc - 15), 16, 30, fc=c, ec=c, lw=0.2))
    else:
        ov.add_patch(Rectangle((2101, yc - 15), 16, 30, fc="white", ec=c, lw=0.5))
        ov.plot([2109, 2109], [yc - 15, yc + 15], color=c, lw=0.5)

fig.savefig("out.png", dpi=DPI, facecolor="white")
